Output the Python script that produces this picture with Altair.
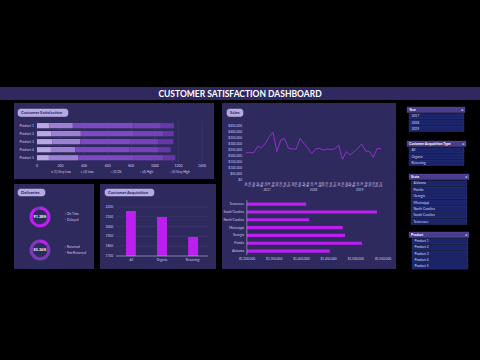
import altair as alt
import pandas as pd

# ---------------- data ----------------
title_text = "CUSTOMER SATISFACTION DASHBOARD"

products = ["Product 1", "Product 2", "Product 3", "Product 4", "Product 5"]
sat_levels = ["(1) Very Low", "(2) Low", "(3) Ok", "(4) High", "(5) Very High"]
sat_very_low = [107, 124, 130, 118, 101]
sat_low = [197, 248, 237, 208, 248]
sat_ok = [513, 450, 423, 456, 473]
sat_high = [234, 248, 239, 245, 248]
sat_very_high = [110, 90, 127, 107, 104]
sat_ticks = [0, 200, 400, 600, 800, 1000, 1200, 1400]

delivery_labels = ["On Time", "Delayed"]
delivery_values = [91.38, 8.62]
delivery_text = "91.38%"
return_labels = ["Returned", "Not Returned"]
return_values = [14.64, 85.36]
return_text = "85.36%"

acq_types = ["All", "Organic", "Returning"]
acq_values = [2159, 2098, 1894]
acq_ticks = [1700, 1800, 1900, 2000, 2100, 2200]

month_names = ["Jan", "Feb", "Mar", "Apr", "May", "Jun",
               "Jul", "Aug", "Sep", "Oct", "Nov", "Dec"]
sales_years = ["2017", "2018", "2019"]
sales_values = [228000, 228000, 228000, 278000, 270000, 305000, 361000, 397000, 236000, 333000, 347000, 264000,
                258000, 258000, 347000, 305000, 270000, 217000, 258000, 264000, 250000, 258000, 255000, 258000,
                292000, 172000, 236000, 208000, 236000, 264000, 300000, 242000, 236000, 189000, 264000, 258000]
sales_ticks = [0, 50000, 100000, 150000, 200000, 250000, 300000, 350000, 400000, 450000]

states = ["Tennessee", "South Carolina", "North Carolina", "Mississippi", "Georgia", "Florida", "Alabama"]
state_sales = [1408800, 1539000, 1414300, 1476000, 1480300, 1511500, 1452200]
state_ticks = [1300000, 1350000, 1400000, 1450000, 1500000, 1550000]

slicer_years = ["2017", "2018", "2019"]
slicer_acq = ["All", "Organic", "Returning"]
slicer_states = ["Alabama", "Florida", "Georgia", "Mississippi", "North Carolina", "South Carolina", "Tennessee"]
slicer_products = ["Product 1", "Product 2", "Product 3", "Product 4", "Product 5"]

# ---------------- style ----------------
FONT = "Lato"
PANEL = "#2f2a5e"
HEADER = "#30295f"
PILL = "#b3a7e4"
PILL_TEXT = "#2a2358"
LABEL = "#cfc8f0"
GRID = "#48417c"
MAGENTA = "#bd1ff0"
DULL = "#7a3bb6"
LINE = "#9a2fd8"
SAT_COLORS = ["#bba8e2", "#9c80d2", "#7c49c2", "#7443b7", "#6637a6"]
SL_HEAD = "#4b3d8e"
SL_ITEM = "#1b2469"
SL_STROKE = "#3b4796"

one = alt.Data(values=[{}])


def box(x0, x1, y0, y1, color, radius=0, stroke=None, sw=0):
    kw = dict(color=color, cornerRadius=radius)
    if stroke:
        kw.update(stroke=stroke, strokeWidth=sw)
    return alt.Chart(one).mark_rect(**kw).encode(
        x=alt.value(x0), x2=alt.value(x1), y=alt.value(y0), y2=alt.value(y1))


def label(text, x, y, size, color, weight="normal", align="left"):
    return alt.Chart(one).mark_text(
        text=text, font=FONT, fontSize=size, color=color, fontWeight=weight,
        align=align, baseline="middle").encode(x=alt.value(x), y=alt.value(y))


def pill(text, x0, x1, y0, y1):
    return [box(x0, x1, y0, y1, PILL, radius=2.5, stroke="#d6cff5", sw=0.4),
            label(text, x0 + 3, (y0 + y1) / 2, 4.2, PILL_TEXT, "bold")]


layers = []

# header
layers.append(box(0, 480, 87, 100, HEADER))
layers.append(label(title_text, 240, 93.5, 8.5, "#ffffff", "bold", "center"))

# panels
layers.append(box(14, 214, 103, 179, PANEL))
layers.append(box(14, 94, 184, 269, PANEL))
layers.append(box(100, 216, 184, 269, PANEL))
layers.append(box(222, 396, 103, 269, PANEL))
layers += pill("Customer Satisfaction", 18, 68, 109, 116.5)
layers += pill("Deliveries", 18, 45, 189, 196)
layers += pill("Customer Acquisition", 105, 154, 189, 196)
layers += pill("Sales", 227, 243, 109, 116.5)

# ---------------- Customer satisfaction stacked bars ----------------
sat_series = [sat_very_low, sat_low, sat_ok, sat_high, sat_very_high]
rows = []
for pi, p in enumerate(products):
    acc = 0
    for li, lev in enumerate(sat_levels):
        v = sat_series[li][pi]
        rows.append({"product": p, "level": lev, "start": acc, "end": acc + v})
        acc += v
sat_df = pd.DataFrame(rows)
sat_x = alt.Scale(domain=[0, 1400], range=[37, 202], nice=False, zero=False)
sat_y = alt.Scale(domain=products, range=[121.7, 161.7], paddingInner=0.35, paddingOuter=0.17)
tick_df = pd.DataFrame({"v": sat_ticks})
layers.append(alt.Chart(tick_df).mark_rule(color=GRID, strokeWidth=0.4).encode(
    x=alt.X("v:Q", scale=sat_x, axis=None), y=alt.value(121), y2=alt.value(162.5)))
layers.append(alt.Chart(sat_df).mark_rect().encode(
    x=alt.X("start:Q", scale=sat_x, axis=None), x2="end:Q",
    y=alt.Y("product:N", scale=sat_y, axis=None),
    color=alt.Color("level:N", scale=alt.Scale(domain=sat_levels, range=SAT_COLORS), legend=None)))
layers.append(alt.Chart(pd.DataFrame({"product": products})).mark_text(
    font=FONT, fontSize=3.4, color=LABEL, align="right").encode(
    x=alt.value(34), y=alt.Y("product:N", scale=sat_y, axis=None), text="product:N"))
layers.append(alt.Chart(tick_df).mark_text(
    font=FONT, fontSize=3.4, color=LABEL, align="center", baseline="middle").encode(
    x=alt.X("v:Q", scale=sat_x, axis=None), y=alt.value(165.5), text=alt.Text("v:Q", format="d")))
leg_df = pd.DataFrame({"level": sat_levels})
leg_x = alt.Scale(type="point", domain=sat_levels, range=[52, 170], padding=0)
layers.append(alt.Chart(leg_df).mark_circle(size=2.5, opacity=1).encode(
    x=alt.X("level:N", scale=leg_x, axis=None), y=alt.value(172),
    color=alt.Color("level:N", scale=alt.Scale(domain=sat_levels, range=SAT_COLORS), legend=None)))
layers.append(alt.Chart(leg_df).mark_text(
    font=FONT, fontSize=3.2, color=LABEL, align="left", dx=1.8, baseline="middle").encode(
    x=alt.X("level:N", scale=leg_x, axis=None), y=alt.value(172), text="level:N"))

# ---------------- Deliveries donuts ----------------
def donut(labels, values, colors, cy, text):
    df = pd.DataFrame({"label": labels, "v": values, "o": list(range(len(labels)))})
    out = [alt.Chart(df).mark_arc(radius=10.5, radius2=7.3).encode(
        theta=alt.Theta("v:Q", stack=True),
        order=alt.Order("o:Q"),
        color=alt.Color("label:N", scale=alt.Scale(domain=labels, range=colors), legend=None),
        x=alt.value(40), y=alt.value(cy))]
    out.append(label(text, 40, cy, 3.8, "#ffffff", "bold", "center"))
    ly = alt.Scale(type="point", domain=labels, range=[cy - 3, cy + 2.5], padding=0)
    out.append(alt.Chart(df).mark_circle(size=2, opacity=1).encode(
        x=alt.value(65.5), y=alt.Y("label:N", scale=ly, axis=None),
        color=alt.Color("label:N", scale=alt.Scale(domain=labels, range=colors), legend=None)))
    out.append(alt.Chart(df).mark_text(font=FONT, fontSize=3.2, color=LABEL, align="left").encode(
        x=alt.value(67), y=alt.Y("label:N", scale=ly, axis=None), text="label:N"))
    return out

layers += donut(delivery_labels, delivery_values, [MAGENTA, DULL], 217, delivery_text)
layers += donut(return_labels, return_values, [MAGENTA, DULL], 250, return_text)

# ---------------- Customer acquisition ----------------
acq_df = pd.DataFrame({"type": acq_types, "v": acq_values})
acq_y = alt.Scale(domain=[1700, 2200], range=[256, 207], nice=False, zero=False)
acq_x = alt.Scale(domain=acq_types, range=[116, 208], paddingInner=0.68, paddingOuter=0.32)
acq_tick_df = pd.DataFrame({"v": acq_ticks})
layers.append(alt.Chart(acq_tick_df).mark_rule(color=GRID, strokeWidth=0.4).encode(
    y=alt.Y("v:Q", scale=acq_y, axis=None), x=alt.value(116), x2=alt.value(208)))
layers.append(alt.Chart(acq_df).mark_bar(color=MAGENTA).encode(
    x=alt.X("type:N", scale=acq_x, axis=None),
    y=alt.Y("v:Q", scale=acq_y, axis=None), y2=alt.datum(1700)))
layers.append(alt.Chart(pd.DataFrame({"v": [1700]})).mark_rule(color="#b9b1e0", strokeWidth=0.6).encode(
    y=alt.Y("v:Q", scale=acq_y, axis=None), x=alt.value(116), x2=alt.value(208)))
layers.append(alt.Chart(acq_tick_df).mark_text(font=FONT, fontSize=3.2, color=LABEL, align="right").encode(
    y=alt.Y("v:Q", scale=acq_y, axis=None), x=alt.value(113), text=alt.Text("v:Q", format="d")))
layers.append(alt.Chart(acq_df).mark_text(font=FONT, fontSize=3.2, color=LABEL, align="center").encode(
    x=alt.X("type:N", scale=acq_x, axis=None), y=alt.value(260), text="type:N"))

# ---------------- Sales line ----------------
sales_df = pd.DataFrame({
    "i": list(range(len(sales_values))),
    "v": sales_values,
    "month": [month_names[k % 12] for k in range(len(sales_values))],
})
sx = alt.Scale(domain=[0, len(sales_values) - 1], range=[246, 381], nice=False, zero=False)
sy = alt.Scale(domain=[0, 450000], range=[180, 126], nice=False, zero=False)
layers.append(alt.Chart(sales_df).mark_line(color=LINE, strokeWidth=0.9).encode(
    x=alt.X("i:Q", scale=sx, axis=None), y=alt.Y("v:Q", scale=sy, axis=None)))
layers.append(alt.Chart(pd.DataFrame({"v": sales_ticks})).mark_text(
    font=FONT, fontSize=3.2, color=LABEL, align="right").encode(
    y=alt.Y("v:Q", scale=sy, axis=None), x=alt.value(242), text=alt.Text("v:Q", format="$,.0f")))
layers.append(alt.Chart(sales_df).mark_text(
    font=FONT, fontSize=2.8, color=LABEL, align="right", baseline="middle", angle=270).encode(
    x=alt.X("i:Q", scale=sx, axis=None), y=alt.value(182), text="month:N"))
yr_df = pd.DataFrame({"year": sales_years, "mid": [5.5, 17.5, 29.5]})
layers.append(alt.Chart(yr_df).mark_text(font=FONT, fontSize=3.2, color=LABEL, align="center").encode(
    x=alt.X("mid:Q", scale=sx, axis=None), y=alt.value(190), text="year:N"))

# ---------------- Sales by state ----------------
st_df = pd.DataFrame({"state": states, "v": state_sales})
stx = alt.Scale(domain=[1300000, 1550000], range=[247, 383], nice=False, zero=False)
sty = alt.Scale(domain=states, range=[200.2, 255], paddingInner=0.6, paddingOuter=0.3)
layers.append(alt.Chart(st_df).mark_bar(color=MAGENTA).encode(
    x=alt.X("v:Q", scale=stx, axis=None), x2=alt.datum(1300000),
    y=alt.Y("state:N", scale=sty, axis=None)))
layers.append(box(246.6, 247.2, 200, 255, "#b9b1e0"))
layers.append(alt.Chart(st_df).mark_text(font=FONT, fontSize=3.2, color=LABEL, align="right").encode(
    x=alt.value(244), y=alt.Y("state:N", scale=sty, axis=None), text="state:N"))
layers.append(alt.Chart(pd.DataFrame({"v": state_ticks})).mark_text(
    font=FONT, fontSize=3.2, color=LABEL, align="center").encode(
    x=alt.X("v:Q", scale=stx, axis=None), y=alt.value(258.5), text=alt.Text("v:Q", format="$,.0f")))

# ---------------- Slicers ----------------
def slicer(title, items, hx0, hx1, hy0, hy1, ix0, ix1, iy0, iy1):
    out = [box(hx0, hx1, hy0, hy1, SL_HEAD, stroke="#6b5cb8", sw=0.3),
           label(title, hx0 + 2, (hy0 + hy1) / 2, 3.5, "#ffffff", "bold"),
           label("\u2297", hx1 - 2.5, (hy0 + hy1) / 2, 3.2, "#e0dcf5", "normal", "center")]
    df = pd.DataFrame({"item": items})
    ys = alt.Scale(domain=items, range=[iy0, iy1], paddingInner=0.12, paddingOuter=0.06)
    out.append(alt.Chart(df).mark_rect(color=SL_ITEM, stroke=SL_STROKE, strokeWidth=0.35).encode(
        x=alt.value(ix0), x2=alt.value(ix1), y=alt.Y("item:N", scale=ys, axis=None)))
    out.append(alt.Chart(df).mark_text(font=FONT, fontSize=3.3, color="#d7dcf5", align="left").encode(
        x=alt.value(ix0 + 2.5), y=alt.Y("item:N", scale=ys, axis=None), text="item:N"))
    return out

layers += slicer("Year", slicer_years, 407, 465, 107, 112.5, 409, 464, 113, 132)
layers += slicer("Customer Acquisition Type", slicer_acq, 407, 466, 141, 146.5, 409, 464, 147.3, 165.8)
layers += slicer("State", slicer_states, 409, 469, 174, 179.5, 411, 467, 180.3, 224.8)
layers += slicer("Product", slicer_products, 409, 469, 232, 237.5, 412, 468, 238, 269.5)

chart = alt.layer(*layers).properties(
    width=480, height=360, padding=0,
    autosize=alt.AutoSizeParams(type="none"),
    background="#000000",
).resolve_scale(
    x="independent", y="independent", color="independent", theta="independent"
).configure_view(strokeWidth=0)

chart.save("out.html", embed_options={"renderer": "svg", "actions": False})
